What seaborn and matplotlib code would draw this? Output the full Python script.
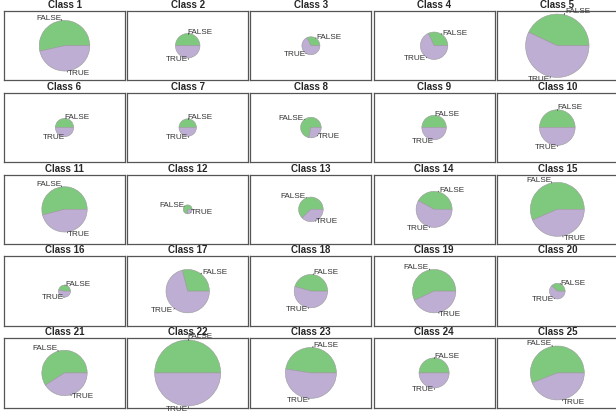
import numpy as np
import matplotlib
matplotlib.use("Agg")
import matplotlib.pyplot as plt
import seaborn as sns

# Counts of FALSE / TRUE per class
classes = [f"Class {i}" for i in range(1, 26)]
false_counts = [342, 75, 26, 60, 432, 42, 38, 76, 75, 159,
                278, 15, 94, 136, 412, 17, 137, 127, 268, 23,
                304, 545, 309, 113, 408]
true_counts = [298, 75, 55, 128, 573, 42, 38, 30, 75, 159,
               237, 5, 57, 188, 317, 19, 334, 152, 203, 38,
               211, 545, 341, 113, 321]
slice_labels = ["FALSE", "TRUE"]

sns.set_style("white")
plt.rcParams["font.family"] = ["Liberation Sans", "DejaVu Sans"]
palette = sns.color_palette("Accent", 2)

FIG_W, FIG_H = 616, 411
fig = plt.figure(figsize=(FIG_W / 100, FIG_H / 100), dpi=100)

# panel geometry in pixels
n_cols = 5
col_left0, col_pitch, panel_w = 4.0, 123.2, 121.0
row_top0, row_pitch, panel_h = 11.0, 81.8, 69.5
r_max = 33.0  # radius of the largest pie, pixels

totals = np.array(false_counts) + np.array(true_counts)
max_total = totals.max()

for k, name in enumerate(classes):
    row, col = divmod(k, n_cols)
    left = col_left0 + col * col_pitch
    top = row_top0 + row * row_pitch
    ax = fig.add_axes([left / FIG_W, 1 - (top + panel_h) / FIG_H,
                       panel_w / FIG_W, panel_h / FIG_H])
    vals = np.array([false_counts[k], true_counts[k]], dtype=float)
    radius = r_max * np.sqrt(totals[k] / max_total)
    ax.pie(vals, radius=radius, colors=palette, startangle=0,
           counterclock=True, frame=True,
           wedgeprops=dict(edgecolor="#9a9a9a", linewidth=0.4))

    # slice labels: tick from r to 1.05 r, text at 1.1 r on the mid angle
    bounds = np.concatenate([[0.0], np.cumsum(vals) / vals.sum()])
    for i, lab in enumerate(slice_labels):
        mid = np.pi * (bounds[i] + bounds[i + 1])
        cx, cy = np.cos(mid), np.sin(mid)
        ax.plot([radius * cx, 1.05 * radius * cx],
                [radius * cy, 1.05 * radius * cy],
                color="#333333", lw=0.5, clip_on=False)
        ax.text(1.1 * radius * cx, 1.1 * radius * cy, lab,
                ha="right" if cx < 0 else "left", va="center",
                fontsize=5.85, color="#333333", clip_on=False)

    ax.set_aspect("auto")
    ax.set_xlim(-panel_w / 2, panel_w / 2)
    ax.set_ylim(-panel_h / 2, panel_h / 2)
    ax.set_xticks([])
    ax.set_yticks([])
    for s in ax.spines.values():
        s.set_visible(True)
        s.set_color("#555555")
        s.set_linewidth(0.9)
    ax.set_title(name, fontsize=7, fontweight="bold", pad=2.2)

fig.savefig("out.png", dpi=100)
